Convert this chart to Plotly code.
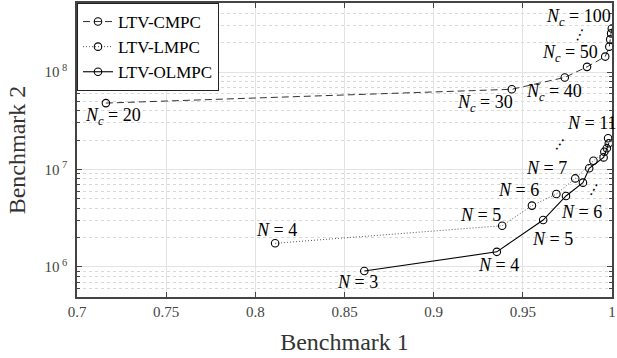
import numpy as np
import plotly.graph_objects as go

# ---- data ----
cmpc_x = [0.7162, 0.9438, 0.9735, 0.9860, 0.9962, 0.9985, 0.9990, 0.9995, 0.9999]
cmpc_y = [4.8e7, 6.65e7, 8.8e7, 1.13e8, 1.44e8, 1.82e8, 2.16e8, 2.49e8, 2.80e8]

lmpc_x = [0.8111, 0.9384, 0.9551, 0.9688, 0.9794, 0.9896, 0.9957, 0.9978]
lmpc_y = [1.75e6, 2.65e6, 4.26e6, 5.6e6, 8.1e6, 1.23e7, 1.52e7, 2.09e7]

olmpc_x = [0.8611, 0.9354, 0.9614, 0.9742, 0.9837, 0.9872, 0.9953, 0.9971, 0.9982]
olmpc_y = [9.1e5, 1.43e6, 3.03e6, 5.35e6, 7.33e6, 1.03e7, 1.33e7, 1.65e7, 1.86e7]

x_ticks = [0.7, 0.75, 0.8, 0.85, 0.9, 0.95, 1.0]
x_ticktext = ["0.7", "0.75", "0.8", "0.85", "0.9", "0.95", "1"]
y_ticks = [1e6, 1e7, 1e8]
y_ticktext = ["10<sup> 6</sup>", "10<sup> 7</sup>", "10<sup> 8</sup>"]

# labels: (text, x, log10 y, xanchor, size, angle)
labels = [
    ("<i>N</i><sub><i>c</i></sub> = 20", 0.7033, 7.54, "left", 18, 0),
    ("<i>N</i><sub><i>c</i></sub> = 30", 0.9118, 7.68, "left", 18, 0),
    ("<i>N</i><sub><i>c</i></sub> = 40", 0.9508, 7.795, "left", 18, 0),
    ("<i>N</i><sub><i>c</i></sub> = 50", 0.9598, 8.195, "left", 18, 0),
    ("<i>N</i><sub><i>c</i></sub> = 100", 0.9620, 8.555, "left", 18, 0),
    ("⋮", 0.9820, 8.38, "center", 15, 25),
    ("<i>N</i> = 11", 0.9737, 7.477, "left", 18, 0),
    ("⋮", 0.9709, 7.262, "center", 15, 35),
    ("<i>N</i> = 7", 0.9508, 7.015, "left", 18, 0),
    ("<i>N</i> = 6", 0.9347, 6.79, "left", 18, 0),
    ("<i>N</i> = 5", 0.9135, 6.533, "left", 18, 0),
    ("<i>N</i> = 4", 0.7992, 6.379, "left", 18, 0),
    ("<i>N</i> = 3", 0.8444, 5.85, "left", 18, 0),
    ("<i>N</i> = 4", 0.9235, 6.021, "left", 18, 0),
    ("<i>N</i> = 5", 0.9542, 6.287, "left", 18, 0),
    ("<i>N</i> = 6", 0.9703, 6.564, "left", 18, 0),
    ("⋮", 0.9899, 6.79, "center", 15, 30),
]

serif = "Liberation Serif"
fig = go.Figure()

mk = dict(symbol="circle-open", size=7.5, color="black", line=dict(width=1.1))
fig.add_trace(go.Scatter(
    x=cmpc_x, y=cmpc_y, name="LTV-CMPC", mode="lines+markers",
    line=dict(color="#333333", width=1, dash="7px,4px"), marker=mk,
))
fig.add_trace(go.Scatter(
    x=lmpc_x, y=lmpc_y, name="LTV-LMPC", mode="lines+markers",
    line=dict(color="#555555", width=1, dash="1px,2px"), marker=mk,
))
fig.add_trace(go.Scatter(
    x=olmpc_x, y=olmpc_y, name="LTV-OLMPC", mode="lines+markers",
    line=dict(color="black", width=1.1), marker=mk,
))

for txt, x, ly, xa, sz, ang in labels:
    fig.add_annotation(x=x, y=ly, text=txt, showarrow=False, xanchor=xa, yanchor="middle",
                       textangle=ang, font=dict(family=serif, size=sz, color="black"))

axis_common = dict(
    showline=True, linecolor="#444444", linewidth=1.5, mirror="ticks",
    ticks="inside", ticklen=5, tickcolor="#444444",
    showgrid=True, gridcolor="#e3e3e3", gridwidth=1, zeroline=False,
    tickfont=dict(family=serif, size=15, color="#444444"),
    ticklabeloverflow="allow",
)

fig.update_xaxes(
    range=[0.7, 1.0], tickvals=x_ticks, ticktext=x_ticktext,
    title=dict(text="Benchmark 1", font=dict(family=serif, size=24, color="#333333"), standoff=14),
    **axis_common,
)
fig.update_yaxes(
    type="log", range=[5.692, 8.708], tickvals=y_ticks, ticktext=y_ticktext,
    ticklabelstandoff=5,
    title=dict(text="Benchmark 2", font=dict(family=serif, size=24, color="#333333"), standoff=12),
    minor=dict(ticks="inside", ticklen=3, tickcolor="#444444", showgrid=True,
               gridcolor="#d8d8d8", griddash="dot", dtick="D1"),
    **axis_common,
)

fig.update_layout(
    width=617, height=358,
    margin=dict(l=77, r=1, t=3, b=61),
    plot_bgcolor="white", paper_bgcolor="white",
    font=dict(family=serif),
    legend=dict(x=0, y=1, xanchor="left", yanchor="top",
                bgcolor="white", bordercolor="#222222", borderwidth=1,
                font=dict(family=serif, size=17, color="black"),
                tracegroupgap=0, itemwidth=30),
    showlegend=True,
)

fig.write_html("out.html", config={"displayModeBar": False},
               post_script="document.body.style.margin='0';document.body.style.overflow='hidden';")
